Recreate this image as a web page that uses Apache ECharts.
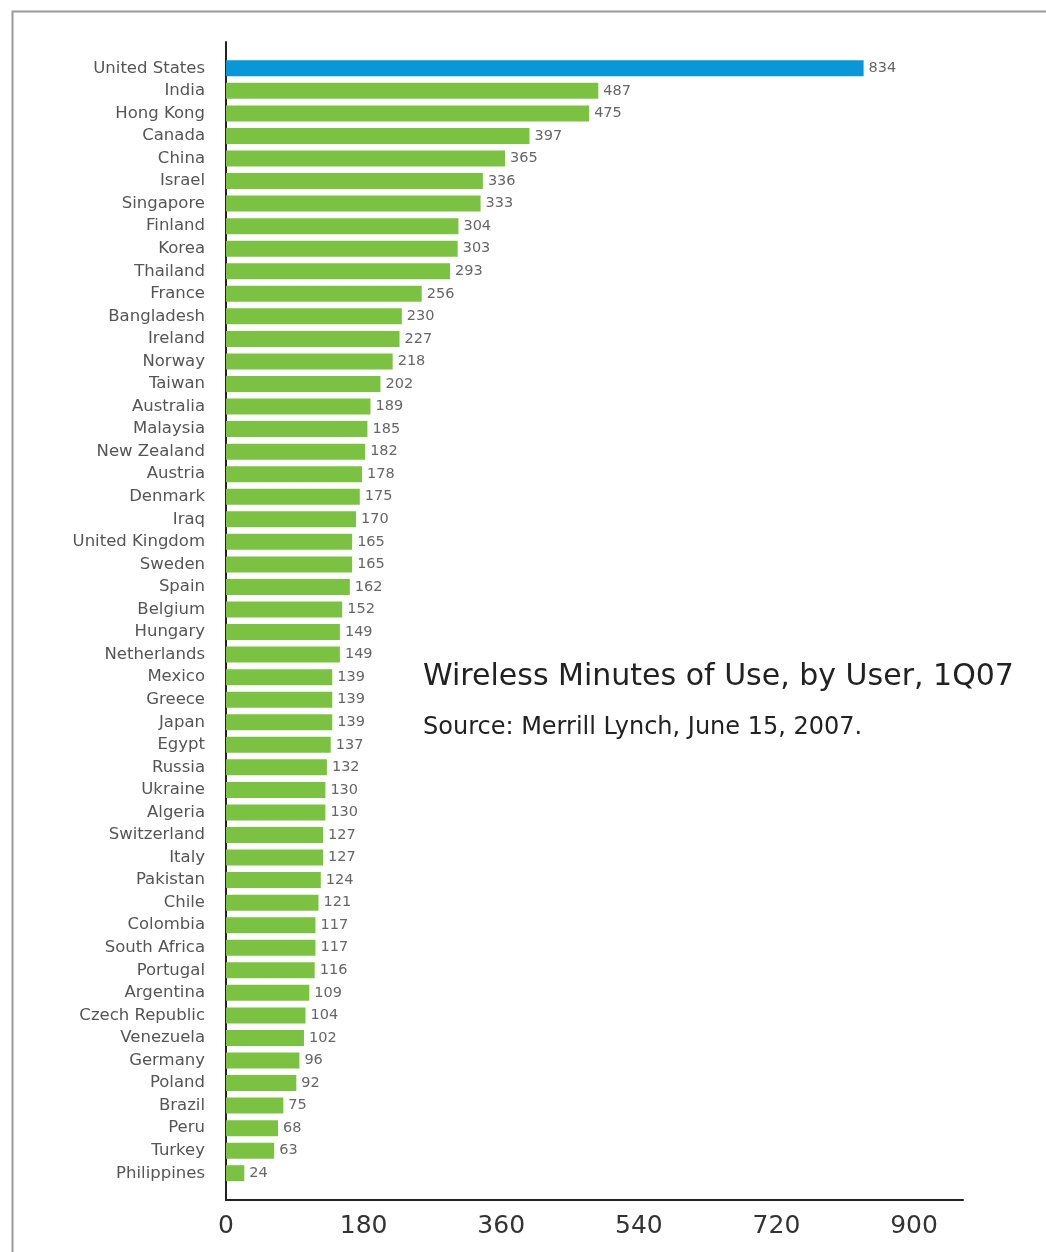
<!DOCTYPE html>
<html>
<head>
<meta charset="utf-8">
<script src="https://cdn.jsdelivr.net/npm/echarts@6/dist/echarts.min.js"></script>
<style>
html,body{margin:0;padding:0;background:#fff;}
#chart{width:1046px;height:1252px;}
</style>
</head>
<body>
<div id="chart"></div>
<script>
const countries = ["United States","India","Hong Kong","Canada","China","Israel","Singapore","Finland","Korea","Thailand","France","Bangladesh","Ireland","Norway","Taiwan","Australia","Malaysia","New Zealand","Austria","Denmark","Iraq","United Kingdom","Sweden","Spain","Belgium","Hungary","Netherlands","Mexico","Greece","Japan","Egypt","Russia","Ukraine","Algeria","Switzerland","Italy","Pakistan","Chile","Colombia","South Africa","Portugal","Argentina","Czech Republic","Venezuela","Germany","Poland","Brazil","Peru","Turkey","Philippines"];
const minutes = [834,487,475,397,365,336,333,304,303,293,256,230,227,218,202,189,185,182,178,175,170,165,165,162,152,149,149,139,139,139,137,132,130,130,127,127,124,121,117,117,116,109,104,102,96,92,75,68,63,24];
const highlighted = ["United States"];
const titleText = "Wireless Minutes of Use, by User, 1Q07";
const sourceText = "Source: Merrill Lynch, June 15, 2007.";
const xMax = 964;
const xInterval = 180;

const FONT = "DejaVu Sans";
const chart = echarts.init(document.getElementById('chart'), null, {renderer:'canvas'});
chart.setOption({
  backgroundColor:'#ffffff',
  animation:false,
  textStyle:{fontFamily:FONT},
  graphic:[{
    type:'rect', left:10, top:9, silent:true,
    shape:{width:1100,height:1300},
    style:{fill:'none',stroke:'#9a9a9a',lineWidth:2}
  }],
  title:[
    {text:titleText,left:418,top:654,textStyle:{fontFamily:FONT,fontSize:30,fontWeight:'normal',color:'#222',lineHeight:36}},
    {text:sourceText,left:418,top:709,textStyle:{fontFamily:FONT,fontSize:24,fontWeight:'normal',color:'#222',lineHeight:28}}
  ],
  grid:[
    {left:226, top:42, width:737, height:1158, containLabel:false},
    {left:226, top:57, width:737, height:1127.5, containLabel:false}
  ],
  xAxis:[
    {gridIndex:0, type:'value', min:0, max:xMax, interval:xInterval,
     axisLine:{show:true,lineStyle:{color:'#222',width:2}},
     axisTick:{show:false}, splitLine:{show:false},
     axisLabel:{showMaxLabel:false, fontFamily:FONT, fontSize:25, color:'#333', margin:14}},
    {gridIndex:1, type:'value', min:0, max:xMax, interval:xInterval,
     axisLine:{show:false}, axisTick:{show:false}, splitLine:{show:false}, axisLabel:{show:false}}
  ],
  yAxis:[
    {gridIndex:0, type:'value', min:0, max:1,
     axisLine:{show:true,lineStyle:{color:'#222',width:2}},
     axisTick:{show:false}, splitLine:{show:false}, axisLabel:{show:false}},
    {gridIndex:1, type:'category', data:countries, inverse:true,
     axisLine:{show:false}, axisTick:{show:false}, splitLine:{show:false},
     axisLabel:{fontFamily:FONT, fontSize:16.5, color:'#555', margin:21}}
  ],
  series:[{
    type:'bar', xAxisIndex:1, yAxisIndex:1,
    data:minutes,
    barWidth:16,
    itemStyle:{color:(p)=> highlighted.includes(countries[p.dataIndex]) ? '#0898d8' : '#7cc242'},
    label:{show:true, position:'right', distance:5, fontFamily:FONT, fontSize:14.5, color:'#666'}
  }]
});
</script>
</body>
</html>
